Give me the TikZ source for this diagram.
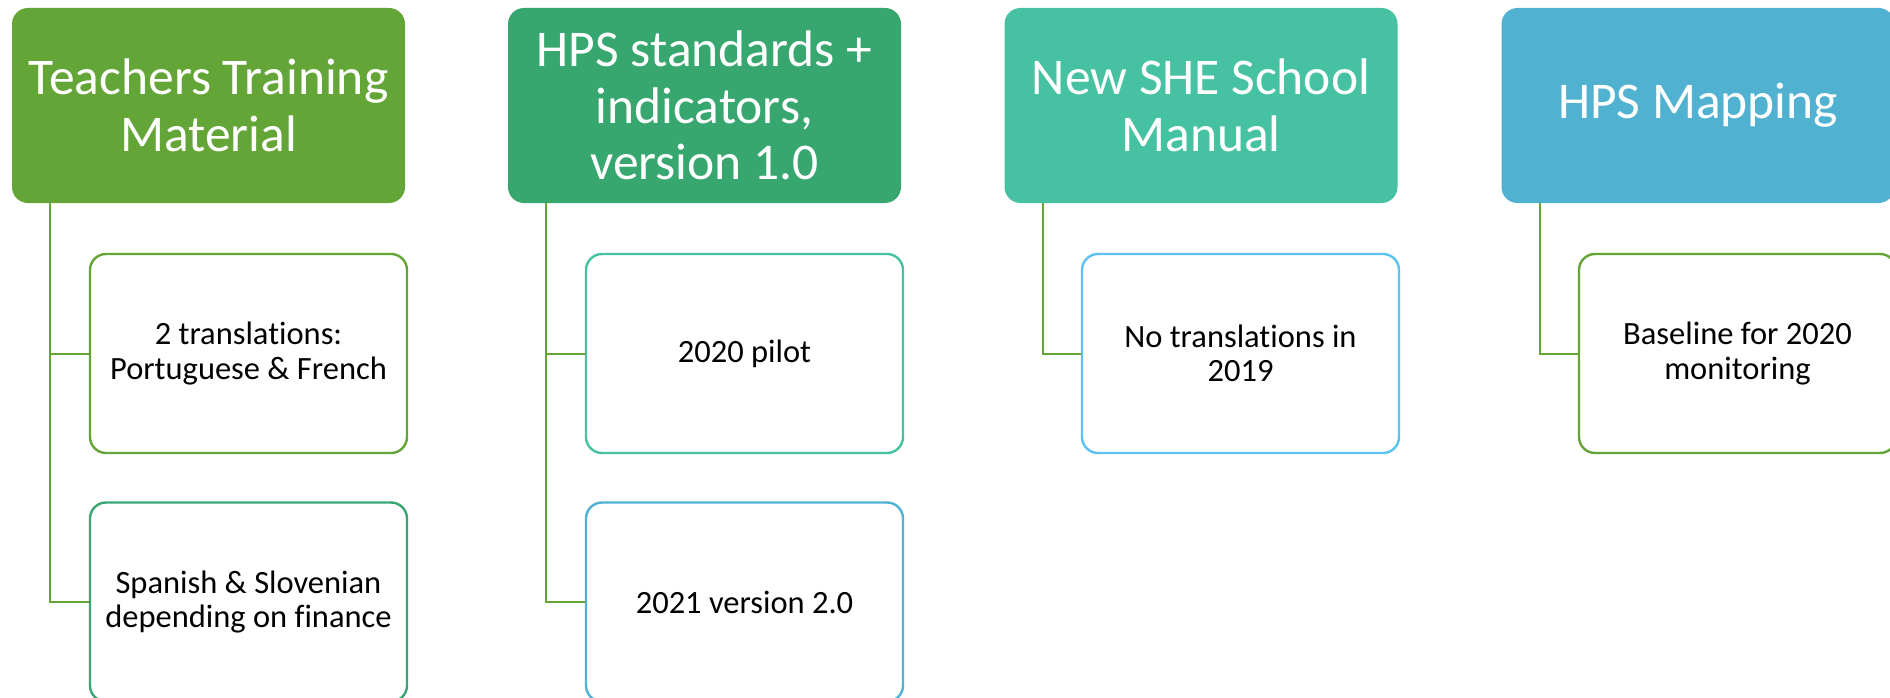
\documentclass[tikz,border=0pt]{standalone}
\usepackage{fontspec}
\setmainfont{Carlito}[Ligatures=NoCommon]
\definecolor{hA}{HTML}{64A537}
\definecolor{hB}{HTML}{38A76F}
\definecolor{hC}{HTML}{46C2A3}
\definecolor{hD}{HTML}{50B2D0}
\definecolor{kA}{HTML}{64A537}
\definecolor{kB}{HTML}{3AA672}
\definecolor{kC}{HTML}{46C2A3}
\definecolor{kD}{HTML}{4FB2D2}
\definecolor{kE}{HTML}{5BC2F2}
\definecolor{lnk}{HTML}{64A537}
\begin{document}
\begin{tikzpicture}[x=1pt,y=-1pt,
  hdr/.style={rectangle,rounded corners=16pt,minimum width=393pt,minimum height=195pt,inner sep=0pt,
    text=white,align=center,font=\fontsize{51.5}{56.5}\selectfont},
  kid/.style={rectangle,rounded corners=16pt,minimum width=317pt,minimum height=199pt,inner sep=0pt,
    fill=white,line width=2.4pt,text=black,align=center,font=\fontsize{32.5}{34.5}\selectfont},
  lnkline/.style={draw=lnk,line width=2pt}]
\useasboundingbox (0,0) rectangle (1890,698);
\clip (0,0) rectangle (1890,698);
\fill[white] (0,0) rectangle (1890,698);
% headers
\node[hdr,fill=hA] (h1) at (208.5,105.5) {Teachers Training\\Material};
\node[hdr,fill=hB] (h2) at (704.5,105.5) {HPS standards +\\indicators,\\version 1.0};
\node[hdr,fill=hC] (h3) at (1201,105.5) {New SHE School\\Manual};
\node[hdr,fill=hD] (h4) at (1698,105.5) {HPS Mapping};
% children
\node[kid,draw=kA] (k1a) at (248.5,353.5) {2 translations:\\Portuguese \& French};
\node[kid,draw=kB] (k1b) at (248.5,602) {Spanish \& Slovenian\\depending on finance};
\node[kid,draw=kC] (k2a) at (744.5,353.5) {2020 pilot};
\node[kid,draw=kD] (k2b) at (744.5,602) {2021 version 2.0};
\node[kid,draw=kE] (k3a) at (1240.5,353.5) {No translations in\\2019};
\node[kid,draw=kA] (k4a) at (1737.5,353.5) {Baseline for 2020\\monitoring};
% connectors
\draw[lnkline] ([xshift=38.6pt]h1.south west) |- (k1a.west);
\draw[lnkline] ([xshift=38.6pt]h1.south west) |- (k1b.west);
\draw[lnkline] ([xshift=38.6pt]h2.south west) |- (k2a.west);
\draw[lnkline] ([xshift=38.6pt]h2.south west) |- (k2b.west);
\draw[lnkline] ([xshift=38.6pt]h3.south west) |- (k3a.west);
\draw[lnkline] ([xshift=38.6pt]h4.south west) |- (k4a.west);
\end{tikzpicture}
\end{document}
